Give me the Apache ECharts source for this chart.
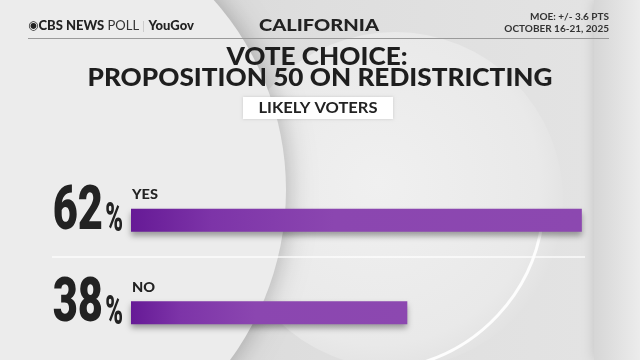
<!DOCTYPE html>
<html>
<head>
<meta charset="utf-8">
<script src="https://cdn.jsdelivr.net/npm/echarts@6/dist/echarts.min.js"></script>
<style>
  html, body { margin: 0; padding: 0; background: #ececec; }
  #chart { width: 640px; height: 360px; }
</style>
</head>
<body>
<div id="chart"></div>
<script>
// Poll results: California Proposition 50, likely voters
const categories = ['YES', 'NO'];
const shares = [62, 38];

const HEAD = 'Lato, "Open Sans", sans-serif';
const NUM = 'Roboto, "DejaVu Sans", sans-serif';

const chart = echarts.init(document.getElementById('chart'), null, { renderer: 'canvas' });

// Backdrop: grey field, soft disc, curved highlight and a lit left dome
const backdrop = [
  { type: 'rect', shape: { x: 0, y: 0, width: 640, height: 360 },
    style: { fill: new echarts.graphic.LinearGradient(0, 0, 1, 0, [
      { offset: 0, color: '#d4d4d4' }, { offset: 0.5, color: '#dedede' }, { offset: 1, color: '#e4e4e4' }]) } },
  { type: 'circle', shape: { cx: 395, cy: 200, r: 168 },
    style: { fill: new echarts.graphic.RadialGradient(0.45, 0.45, 0.6, [
      { offset: 0, color: '#f0f0f0' }, { offset: 0.8, color: '#e9e9e9' }, { offset: 1, color: '#e0e0e0' }]) } },
  { type: 'arc', shape: { cx: 372, cy: 198, r: 172, startAngle: 0.15, endAngle: 1.35 },
    style: { stroke: 'rgba(255,255,255,0.9)', lineWidth: 3, fill: null } },
  { type: 'rect', shape: { x: 594, y: 0, width: 46, height: 360 },
    style: { fill: new echarts.graphic.LinearGradient(0, 0, 1, 0, [
      { offset: 0, color: '#d6d6d6' }, { offset: 1, color: '#ececec' }]),
      shadowBlur: 12, shadowColor: 'rgba(0,0,0,0.15)' } },
  { type: 'circle', shape: { cx: 0, cy: 190, r: 286 },
    style: { fill: '#ececec', shadowBlur: 28, shadowColor: 'rgba(0,0,0,0.28)' } }
];

// Header, rule lines and titles
const header = [
  { type: 'text', x: 28, y: 26,
    style: { text: '{eye|◉}{b|CBS NEWS}{l| POLL}{s| | }{b|YouGov}', verticalAlign: 'middle',
      rich: {
        eye: { fontFamily: 'DejaVu Sans', fontSize: 12, fill: '#222' },
        b: { fontFamily: HEAD, fontWeight: 900, fontSize: 13, fill: '#222' },
        l: { fontFamily: HEAD, fontWeight: 400, fontSize: 13, fill: '#333' },
        s: { fontFamily: HEAD, fontWeight: 300, fontSize: 12, fill: '#aaa' }
      } } },
  { type: 'text', x: 319, y: 26, scaleX: 1.18,
    style: { text: 'CALIFORNIA', fontFamily: HEAD, fontWeight: 900, fontSize: 17,
      fill: '#222', align: 'center', verticalAlign: 'middle' } },
  { type: 'text', x: 609, y: 17,
    style: { text: 'MOE: +/- 3.6 PTS', fontFamily: HEAD, fontWeight: 700, fontSize: 10,
      fill: '#333', align: 'right', verticalAlign: 'middle' } },
  { type: 'text', x: 609, y: 29,
    style: { text: 'OCTOBER 16-21, 2025', fontFamily: HEAD, fontWeight: 700, fontSize: 10,
      fill: '#333', align: 'right', verticalAlign: 'middle' } },
  { type: 'line', shape: { x1: 28, y1: 38.5, x2: 609, y2: 38.5 },
    style: { stroke: '#9a9a9a', lineWidth: 1.2 } },
  { type: 'text', x: 317, y: 57, scaleX: 1.09,
    style: { text: 'VOTE CHOICE:', fontFamily: HEAD, fontWeight: 900, fontSize: 24,
      fill: '#1e1e1e', align: 'center', verticalAlign: 'middle' } },
  { type: 'text', x: 320, y: 78, scaleX: 1.09,
    style: { text: 'PROPOSITION 50 ON REDISTRICTING', fontFamily: HEAD, fontWeight: 900, fontSize: 24,
      fill: '#1e1e1e', align: 'center', verticalAlign: 'middle' } },
  { type: 'rect', shape: { x: 243, y: 97, width: 150, height: 22 },
    style: { fill: '#ffffff', shadowBlur: 3, shadowColor: 'rgba(0,0,0,0.15)' } },
  { type: 'text', x: 318, y: 108, scaleX: 1.1,
    style: { text: 'LIKELY VOTERS', fontFamily: HEAD, fontWeight: 700, fontSize: 15,
      fill: '#222', align: 'center', verticalAlign: 'middle' } },
  { type: 'line', shape: { x1: 52, y1: 257, x2: 585, y2: 257 },
    style: { stroke: 'rgba(255,255,255,0.85)', lineWidth: 1.5 } }
];

// Big condensed percentage and answer name beside each bar
function renderShareLabel(params, api) {
  const idx = api.value(1);
  const p = api.coord([0, idx]);
  const val = api.value(0);
  const shadow = { shadowBlur: 3, shadowColor: 'rgba(0,0,0,0.3)', shadowOffsetY: 1 };
  return {
    type: 'group',
    children: [
      { type: 'text', x: p[0] - 28, y: p[1] - 7, scaleX: 0.7,
        style: Object.assign({ text: String(val), font: '900 62px ' + NUM, fill: '#222',
          align: 'right', verticalAlign: 'middle' }, shadow) },
      { type: 'text', x: p[0] - 8, y: p[1] + 1, scaleX: 0.6,
        style: Object.assign({ text: '%', font: '900 40px ' + NUM, fill: '#222',
          align: 'right', verticalAlign: 'middle' }, shadow) },
      { type: 'text', x: p[0] + 1, y: p[1] - 25, scaleX: 1.12,
        style: { text: categories[idx], font: '900 13px ' + HEAD, fill: '#222',
          align: 'left', verticalAlign: 'middle' } }
    ]
  };
}

chart.setOption({
  animation: false,
  graphic: { elements: backdrop.concat(header) },
  grid: { left: 131, top: 174, width: 515, height: 185, containLabel: false },
  xAxis: { type: 'value', min: 0, max: 70, show: false },
  yAxis: {
    type: 'category', data: categories, inverse: true,
    axisLine: { show: false }, axisTick: { show: false }, splitLine: { show: false },
    axisLabel: { show: false }
  },
  series: [{
    type: 'bar',
    data: shares,
    barWidth: 23,
    itemStyle: {
      color: new echarts.graphic.LinearGradient(0, 0, 1, 0, [
        { offset: 0, color: '#661a96' }, { offset: 0.18, color: '#7d34a8' }, { offset: 0.45, color: '#8b46b0' }, { offset: 1, color: '#8c48b0' }]),
      shadowBlur: 6, shadowOffsetY: 4, shadowColor: 'rgba(0,0,0,0.35)'
    }
  }, {
    type: 'custom',
    data: shares.map((v, i) => [v, i]),
    encode: { x: 0, y: 1 },
    renderItem: renderShareLabel,
    silent: true,
    z: 3
  }]
});
</script>
</body>
</html>
